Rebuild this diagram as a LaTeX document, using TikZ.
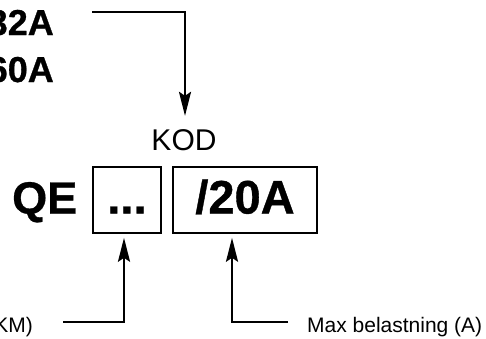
\documentclass[tikz,border=0pt]{standalone}
\usepackage{fontspec}
\setmainfont{Liberation Sans}
\newfontfamily\heavyfont[FakeBold=0.8]{Liberation Sans Bold}
\usetikzlibrary{arrows.meta}
\begin{document}
\begin{tikzpicture}[x=1pt,y=-1pt,
  arr/.style={line width=2.5pt,-{Stealth[length=24pt,width=12pt,inset=4pt]}},
  bigbold/.style={font=\fontsize{36}{36}\selectfont\heavyfont,inner sep=0pt},
  huge/.style={font=\fontsize{45}{45}\selectfont\heavyfont,inner sep=0pt},
  small/.style={font=\fontsize{21}{21}\selectfont,inner sep=0pt},
  codebox/.style={draw,line width=1.5pt,inner sep=0pt,text height=27pt,text depth=0pt,
    font=\fontsize{47}{47}\selectfont\heavyfont}]
\useasboundingbox (0,0) rectangle (486,338);
\node[bigbold,anchor=base east] (t32) at (54,35) {32A};
\node[bigbold,anchor=base east] (t60) at (54,82) {60A};
\node[font=\fontsize{30}{30}\selectfont,inner sep=0pt,anchor=base] (kod) at (184,150) {KOD};
\node[huge,anchor=base west] (qe) at (12,213.5) {QE};
\node[codebox,minimum width=68pt,minimum height=66pt] (b1) at (127,200) {...};
\node[codebox,minimum width=144pt,minimum height=66pt] (b2) at (245,200) {/20A};
\node[small,anchor=base east] (km) at (33,332) {KM)};
\node[small,anchor=base west] (mb) at (307,332) {Max belastning (A)};
\coordinate (top) at (92,12);
\coordinate (kmend) at (63,322);
\coordinate (mbend) at (288,322);
\draw[arr,shorten >=13pt] (top) -| ([xshift=1pt]kod.north);
\draw[arr,shorten >=4pt] (kmend) -| ([xshift=-3pt]b1.south);
\draw[arr,shorten >=4pt] (mbend) -| ([xshift=-13pt]b2.south);
\end{tikzpicture}
\end{document}
